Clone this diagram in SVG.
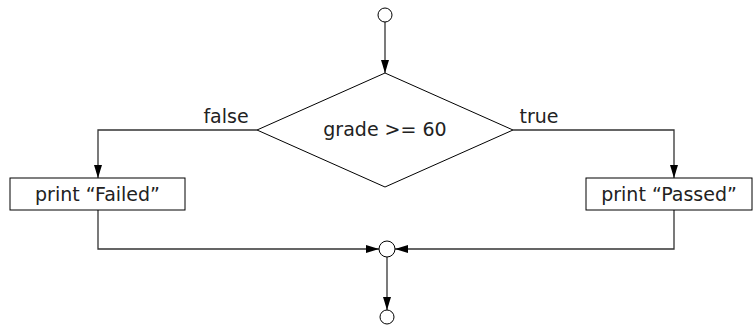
<svg xmlns="http://www.w3.org/2000/svg" width="753" height="329" viewBox="0 0 753 329">
<style>
.shape{fill:#fff;stroke:#000;stroke-width:1}
.conn{fill:none;stroke:#333;stroke-width:1.3}
text{font-family:"DejaVu Sans","Liberation Sans",sans-serif;font-size:19px;fill:#222}
.c{text-anchor:middle}
</style>
<defs>
<marker id="ah" viewBox="0 0 13 8" refX="13" refY="4" markerWidth="13" markerHeight="8" markerUnits="userSpaceOnUse" orient="auto">
<path d="M0,0 L13,4 L0,8 Z" fill="#000"/>
</marker>
</defs>
<g id="connectors">
<line class="conn" x1="385" y1="22" x2="385" y2="73" marker-end="url(#ah)"/>
<polyline class="conn" points="257,130 98,130 98,178" marker-end="url(#ah)"/>
<polyline class="conn" points="513,130 674,130 674,178" marker-end="url(#ah)"/>
<polyline class="conn" points="98,210 98,249 379,249" marker-end="url(#ah)"/>
<polyline class="conn" points="674,210 674,249 395,249" marker-end="url(#ah)"/>
<line class="conn" x1="387" y1="257" x2="387" y2="310" marker-end="url(#ah)"/>
<text x="226" y="123" class="c">false</text>
<text x="539" y="123" class="c">true</text>
</g>
<g id="start"><circle class="shape" cx="385" cy="15" r="7"/></g>
<g id="decision">
<polygon class="shape" points="385,73 513,130 385,187 257,130"/>
<text x="385" y="136" class="c">grade &gt;= 60</text>
</g>
<g id="failed">
<rect class="shape" x="10" y="178" width="175" height="32"/>
<text x="97.5" y="201" class="c">print “Failed”</text>
</g>
<g id="passed">
<rect class="shape" x="586" y="178" width="166" height="32"/>
<text x="669" y="201" class="c">print “Passed”</text>
</g>
<g id="merge"><circle class="shape" cx="387" cy="249" r="8"/></g>
<g id="end"><circle class="shape" cx="387" cy="317" r="7"/></g>
</svg>
